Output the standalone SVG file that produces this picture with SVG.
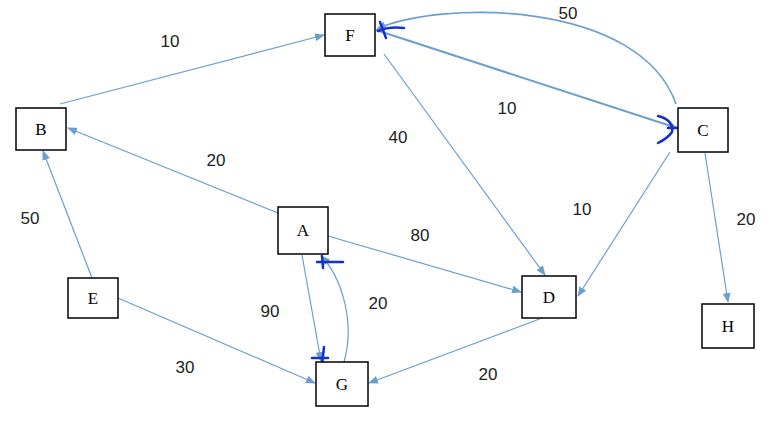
<svg xmlns="http://www.w3.org/2000/svg" width="772" height="423" viewBox="0 0 772 423">
<style>
.n rect{fill:#fff;stroke:#000;stroke-width:1.5}
.n text{font-family:"Liberation Serif",serif;font-size:17px;text-anchor:middle}
.e path{fill:none;stroke:#6a9fd0;stroke-width:1.2}
.l{font-family:"Liberation Sans",sans-serif;font-size:17px;fill:#222;text-anchor:middle}
.m{fill:none;stroke:#1530d0;stroke-width:2.5;stroke-linecap:round}
</style>
<defs><marker id="a" markerWidth="10" markerHeight="8" refX="9" refY="4" orient="auto" markerUnits="userSpaceOnUse"><path d="M0,0L10,4L0,8z" fill="#6a9fd0"/></marker></defs>
<rect width="772" height="423" fill="#fff"/>
<g class="e">
<path d="M60,104L324,35" marker-end="url(#a)"/>
<path d="M376,30L677,128" marker-end="url(#a)" style="stroke-width:2"/>
<path d="M676,104C640,0 440,0 377,29" marker-end="url(#a)" style="stroke-width:1.6"/>
<path d="M384,54L545,275" marker-end="url(#a)"/>
<path d="M670,152L578,296" marker-end="url(#a)"/>
<path d="M705,153L728,302" marker-end="url(#a)"/>
<path d="M278,213L68,128" marker-end="url(#a)"/>
<path d="M328,236L521,292" marker-end="url(#a)"/>
<path d="M92,278L43,151" marker-end="url(#a)"/>
<path d="M118,298L315,383" marker-end="url(#a)"/>
<path d="M302,255L321,361" marker-end="url(#a)"/>
<path d="M344,362C356,320 340,275 321,256" marker-end="url(#a)"/>
<path d="M542,318L369,383" marker-end="url(#a)"/>
</g>
<g class="labels">
<text class="l" x="170" y="47">10</text>
<text class="l" x="568" y="19">50</text>
<text class="l" x="507" y="114">10</text>
<text class="l" x="398" y="143">40</text>
<text class="l" x="582" y="215">10</text>
<text class="l" x="746" y="225">20</text>
<text class="l" x="216" y="166">20</text>
<text class="l" x="420" y="241">80</text>
<text class="l" x="30" y="224">50</text>
<text class="l" x="185" y="373">30</text>
<text class="l" x="270" y="317">90</text>
<text class="l" x="378" y="309">20</text>
<text class="l" x="488" y="380">20</text>
</g>
<g class="marks">
<path class="m" d="M380,22L386,38M378,31C385,28 395,27 404,28"/>
<path class="m" d="M658,116C668,118 674,125 672,132C668,138 662,141 658,143M668,128L682,128"/>
<path class="m" d="M317,262L343,262M322,256L323,268"/>
<path class="m" d="M312,358L328,358M324,347L322,365"/>
</g>
<g id="F" class="n"><rect x="325" y="14" width="50" height="42"/><text x="350" y="41">F</text></g>
<g id="B" class="n"><rect x="16" y="108" width="50" height="42"/><text x="41" y="135">B</text></g>
<g id="C" class="n"><rect x="678" y="108" width="50" height="44"/><text x="703" y="136">C</text></g>
<g id="A" class="n"><rect x="278" y="207" width="50" height="47"/><text x="303" y="236">A</text></g>
<g id="E" class="n"><rect x="68" y="278" width="50" height="40"/><text x="93" y="304">E</text></g>
<g id="D" class="n"><rect x="522" y="276" width="54" height="42"/><text x="549" y="303">D</text></g>
<g id="H" class="n"><rect x="702" y="304" width="52" height="44"/><text x="728" y="332">H</text></g>
<g id="G" class="n"><rect x="316" y="362" width="52" height="44"/><text x="342" y="390">G</text></g>
</svg>
